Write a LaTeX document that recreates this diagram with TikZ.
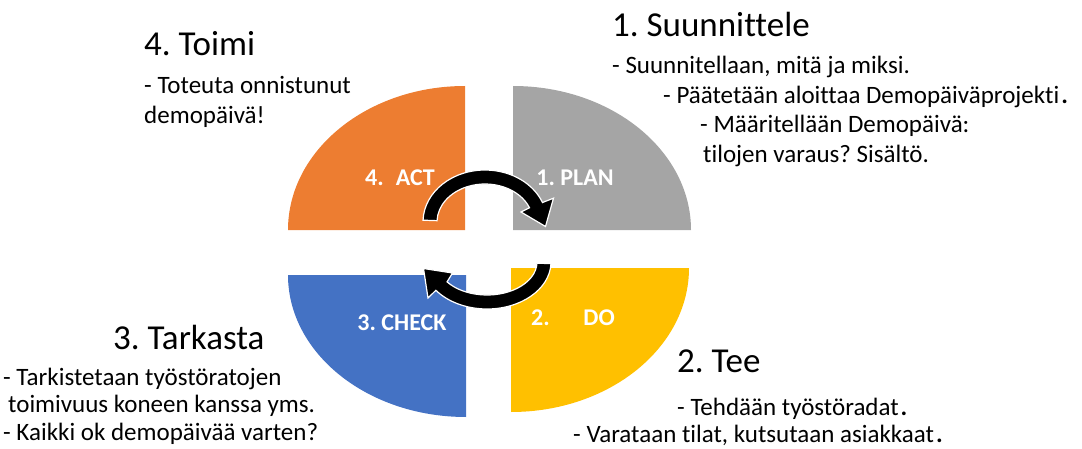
\documentclass[tikz,border=0pt]{standalone}
\usepackage{fontspec}
\setmainfont{Carlito}[Ligatures=NoCommon]
\usepackage{xcolor}
\usepackage{tikz}
\definecolor{actorange}{HTML}{ED7D31}
\definecolor{plangray}{HTML}{A5A5A5}
\definecolor{checkblue}{HTML}{4472C4}
\definecolor{doyellow}{HTML}{FFC000}
\frenchspacing

\begin{document}
\begin{tikzpicture}[x=1pt, y=1pt,
  heading/.style={anchor=base west, inner sep=0pt, font=\fontsize{35}{40}\selectfont},
  bodyline/.style={anchor=base west, inner sep=0pt, font=\fontsize{25}{30}\selectfont},
  quadlabel/.style={white, inner sep=0pt, font=\fontsize{24}{28}\selectfont\bfseries},
  arrowbody/.style={fill=black, draw=white, line width=1.2pt, line join=miter}]
  \useasboundingbox (0,0) rectangle (1082,448);
  % Quadrants
  \fill[actorange] (465,218) -- (288,218) arc[start angle=180, end angle=90, x radius=177pt, y radius=144pt] -- cycle;
  \fill[plangray] (513,218) -- (513,362) arc[start angle=90, end angle=0, x radius=178pt, y radius=144pt] -- cycle;
  \fill[checkblue] (466,173) -- (288,173) arc[start angle=180, end angle=270, x radius=178pt, y radius=142pt] -- cycle;
  \fill[doyellow] (511,180) -- (689,180) arc[start angle=0, end angle=-90, x radius=178pt, y radius=144pt] -- cycle;
  % Quadrant labels
  \node[quadlabel] (act) at (400,270) {4.\hspace{0.5em}ACT};
  \node[quadlabel] (plan) at (575,270) {1. PLAN};
  \node[quadlabel] (check) at (402,125) {3. CHECK};
  \node[quadlabel] (do) at (573,130) {2.\hspace{1.4em}DO};
  % Cycle arrows
  \filldraw[arrowbody] ([shift={(485,226)}]178:62pt and 52pt)
    arc[start angle=178, end angle=22, x radius=62pt, y radius=52pt]
    -- (553.5,249.8) -- (545.5,221.5) -- (521.0,236.0)
    -- ([shift={(485,226)}]22:48pt and 38pt)
    arc[start angle=22, end angle=178, x radius=48pt, y radius=38pt] -- cycle;
  \filldraw[arrowbody] ([shift={(487,186)}]-2:64pt and 47pt)
    arc[start angle=-2, end angle=-143, x radius=64pt, y radius=47pt]
    -- (428.0,150.0) -- (423.5,179.5) -- (452.5,175.0)
    -- ([shift={(487,186)}]-143:50pt and 33pt)
    arc[start angle=-143, end angle=-2, x radius=50pt, y radius=33pt] -- cycle;
  % 4. Toimi
  \node[heading] (acthead) at (144,392) {4. Toimi};
  \node[bodyline] (actline1) at (144,354) {- Toteuta onnistunut};
  \node[bodyline] (actline2) at (144,324) {demopäivä!};
  % 1. Suunnittele
  \node[heading] (planhead) at (612,411) {1. Suunnittele};
  \node[bodyline] (planline1) at (612,374) {- Suunnitellaan, mitä ja miksi.};
  \node[bodyline] (planline2) at (663,344) {- Päätetään aloittaa Demopäiväprojekti\kern2pt\textbf{.}};
  \node[bodyline] (planline3) at (700,315) {- Määritellään Demopäivä:};
  \node[bodyline] (planline4) at (703,285) {tilojen varaus? Sisältö.};
  % 3. Tarkasta
  \node[heading] (checkhead) at (113,99) {3. Tarkasta};
  \node[bodyline] (checkline1) at (3,63) {- Tarkistetaan työstöratojen};
  \node[bodyline] (checkline2) at (8,36) {toimivuus koneen kanssa yms.};
  \node[bodyline] (checkline3) at (3,8) {- Kaikki ok demopäivää varten?};
  % 2. Tee
  \node[heading] (dohead) at (677,76) {2. Tee};
  \node[bodyline] (doline1) at (677,33) {- Tehdään työstöradat\kern2pt\textbf{.}};
  \node[bodyline] (doline2) at (573,6) {- Varataan tilat, kutsutaan asiakkaat\kern2pt\textbf{.}};
\end{tikzpicture}
\end{document}
